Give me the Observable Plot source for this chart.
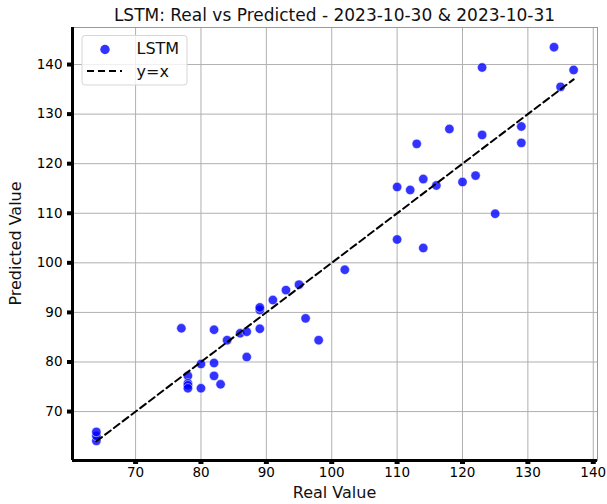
<!DOCTYPE html>
<html>
<head>
<meta charset="utf-8">
<script src="https://cdn.jsdelivr.net/npm/d3@7"></script>
<script src="https://cdn.jsdelivr.net/npm/@observablehq/plot@0.6"></script>
<style>
  html, body { margin: 0; padding: 0; background: #fff; }
  svg { display: block; }
</style>
</head>
<body>
<div id="chart"></div>
<script>
const realValues = [64, 64, 64, 77, 78, 78, 78, 78, 80, 80, 82, 82, 82, 83, 84, 86, 87, 87, 89, 89, 89, 91, 93, 95, 96, 98, 102, 110, 110, 112, 113, 114, 114, 116, 118, 120, 122, 123, 123, 125, 129, 129, 134, 135, 137];
const predictedValues = [64.1, 65.1, 65.9, 86.8, 77.2, 75.7, 75.3, 74.7, 74.7, 79.6, 79.8, 77.2, 86.5, 75.5, 84.4, 85.8, 86.1, 81.0, 86.7, 90.5, 91.0, 92.5, 94.5, 95.6, 88.8, 84.4, 98.6, 104.7, 115.3, 114.7, 124.0, 103.0, 116.9, 115.6, 127.0, 116.3, 117.6, 139.4, 125.8, 109.9, 127.5, 124.2, 143.5, 135.5, 138.9];
const xTicks = [70, 80, 90, 100, 110, 120, 130, 140];
const yTicks = [70, 80, 90, 100, 110, 120, 130, 140];
const seriesName = "LSTM";
const lineName = "y=x";
const titleText = "LSTM: Real vs Predicted - 2023-10-30 & 2023-10-31";
const xLabel = "Real Value";
const yLabel = "Predicted Value";

const points = realValues.map((r, i) => ({real: r, predicted: predictedValues[i]}));
const [rMin, rMax] = d3.extent(realValues);
const identity = [rMin, rMax].map(v => ({real: v, predicted: v}));

function pad(ext) { const m = (ext[1] - ext[0]) * 0.05; return [ext[0] - m, ext[1] + m]; }
const xDomain = pad(d3.extent(realValues));
const yDomain = pad(d3.extent(predictedValues));

const W = 607, H = 504;
const mL = 72, mR = 10, mT = 27, mB = 44;

const svg = Plot.plot({
  width: W,
  height: H,
  marginLeft: mL,
  marginRight: mR,
  marginTop: mT,
  marginBottom: mB,
  style: {fontFamily: "DejaVu Sans", fontSize: "13.5px", color: "black", background: "white"},
  x: {domain: xDomain},
  y: {domain: yDomain},
  marks: [
    Plot.gridX(xTicks, {stroke: "#b0b0b0", strokeOpacity: 1, strokeWidth: 1}),
    Plot.gridY(yTicks, {stroke: "#b0b0b0", strokeOpacity: 1, strokeWidth: 1}),
    Plot.frame({stroke: "#999", strokeWidth: 1}),
    Plot.axisX(xTicks, {anchor: "bottom", tickSize: 4, strokeWidth: 5, tickPadding: 3, label: null, fontSize: 13.5}),
    Plot.axisY(yTicks, {anchor: "left", tickSize: 5, strokeWidth: 4, tickPadding: 5, label: null, fontSize: 13.5}),
    Plot.ruleX([xDomain[0]], {stroke: "black", strokeWidth: 3}),
    Plot.ruleY([yDomain[0]], {stroke: "black", strokeWidth: 3}),
    Plot.dot(points, {x: "real", y: "predicted", r: 4.7, fill: "blue", fillOpacity: 0.8, stroke: "white", strokeWidth: 0.5}),
    Plot.line(identity, {x: "real", y: "predicted", stroke: "black", strokeWidth: 2, strokeDasharray: "7,4"})
  ]
});

const s = d3.select(svg);
s.append("text").attr("x", mL + (W - mL - mR) / 2).attr("y", 21)
  .attr("text-anchor", "middle").attr("font-size", 17).attr("fill", "#111").text(titleText);
s.append("text").attr("x", mL + (W - mL - mR) / 2).attr("y", 498)
  .attr("text-anchor", "middle").attr("font-size", 16).attr("fill", "#111").text(xLabel);
s.append("text").attr("transform", `translate(21,${mT + (H - mT - mB) / 2}) rotate(-90)`)
  .attr("text-anchor", "middle").attr("font-size", 16).attr("fill", "#111").text(yLabel);

// legend
const lg = s.append("g");
lg.append("rect").attr("x", 82).attr("y", 35.5).attr("width", 105).attr("height", 49.5)
  .attr("rx", 3).attr("fill", "white").attr("fill-opacity", 0.8).attr("stroke", "#d6d6d6");
lg.append("circle").attr("cx", 105).attr("cy", 49.5).attr("r", 4.7).attr("fill", "blue").attr("fill-opacity", 0.8);
lg.append("text").attr("x", 136.5).attr("y", 48).attr("dy", "0.35em").attr("text-anchor", "start")
  .attr("font-size", 16).attr("fill", "#111").text(seriesName);
lg.append("line").attr("x1", 87).attr("x2", 122).attr("y1", 71).attr("y2", 71)
  .attr("stroke", "black").attr("stroke-width", 2).attr("stroke-dasharray", "7,4");
lg.append("text").attr("x", 136.5).attr("y", 71).attr("dy", "0.35em").attr("text-anchor", "start")
  .attr("font-size", 16).attr("fill", "#111").text(lineName);

document.getElementById("chart").appendChild(svg);
</script>
</body>
</html>
